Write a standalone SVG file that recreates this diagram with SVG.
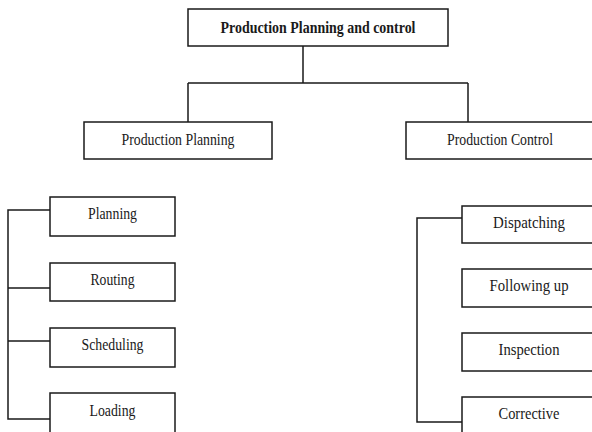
<svg xmlns="http://www.w3.org/2000/svg" width="592" height="432" viewBox="0 0 592 432">
<style>
.n rect{fill:#fff;stroke:#1a1a1a;stroke-width:1.5}
text{font-family:"Liberation Serif","Times New Roman",serif;font-size:17px;fill:#1a1a1a;text-anchor:middle}
.b{font-weight:bold}
#connectors path{fill:none;stroke:#1a1a1a;stroke-width:1.5}
</style>
<rect width="592" height="432" style="fill:#fff;stroke:none"/>
<g id="connectors">
<path d="M303,46V83M188,83H468M188,83V122M468,83V122"/>
<path d="M50,210H8V419H50M8,288H50M8,341H50"/>
<path d="M462,218H417V422H462"/>
</g>
<g id="ppc" class="n"><rect x="188" y="9" width="260" height="37"/><text class="b" x="318" y="33" textLength="195" lengthAdjust="spacingAndGlyphs">Production Planning and control</text></g>
<g id="pp" class="n"><rect x="84" y="122" width="188" height="37"/><text x="178" y="145" textLength="113" lengthAdjust="spacingAndGlyphs">Production Planning</text></g>
<g id="pc" class="n"><rect x="406" y="122" width="190" height="37"/><text x="500" y="145" textLength="106" lengthAdjust="spacingAndGlyphs">Production Control</text></g>
<g id="planning" class="n"><rect x="50" y="197" width="125" height="39"/><text x="112.5" y="219" textLength="49" lengthAdjust="spacingAndGlyphs">Planning</text></g>
<g id="routing" class="n"><rect x="50" y="263" width="125" height="38"/><text x="112.5" y="285" textLength="44" lengthAdjust="spacingAndGlyphs">Routing</text></g>
<g id="scheduling" class="n"><rect x="50" y="328" width="125" height="39"/><text x="112.5" y="350" textLength="62" lengthAdjust="spacingAndGlyphs">Scheduling</text></g>
<g id="loading" class="n"><rect x="50" y="393" width="125" height="45"/><text x="112.5" y="416" textLength="46" lengthAdjust="spacingAndGlyphs">Loading</text></g>
<g id="dispatching" class="n"><rect x="462" y="206" width="134" height="37"/><text x="529" y="228" textLength="72" lengthAdjust="spacingAndGlyphs">Dispatching</text></g>
<g id="following" class="n"><rect x="462" y="269" width="134" height="38"/><text x="529" y="291" textLength="79" lengthAdjust="spacingAndGlyphs">Following up</text></g>
<g id="inspection" class="n"><rect x="462" y="333" width="134" height="38"/><text x="529" y="355" textLength="61" lengthAdjust="spacingAndGlyphs">Inspection</text></g>
<g id="corrective" class="n"><rect x="462" y="397" width="134" height="45"/><text x="529" y="419" textLength="61" lengthAdjust="spacingAndGlyphs">Corrective</text></g>
</svg>
